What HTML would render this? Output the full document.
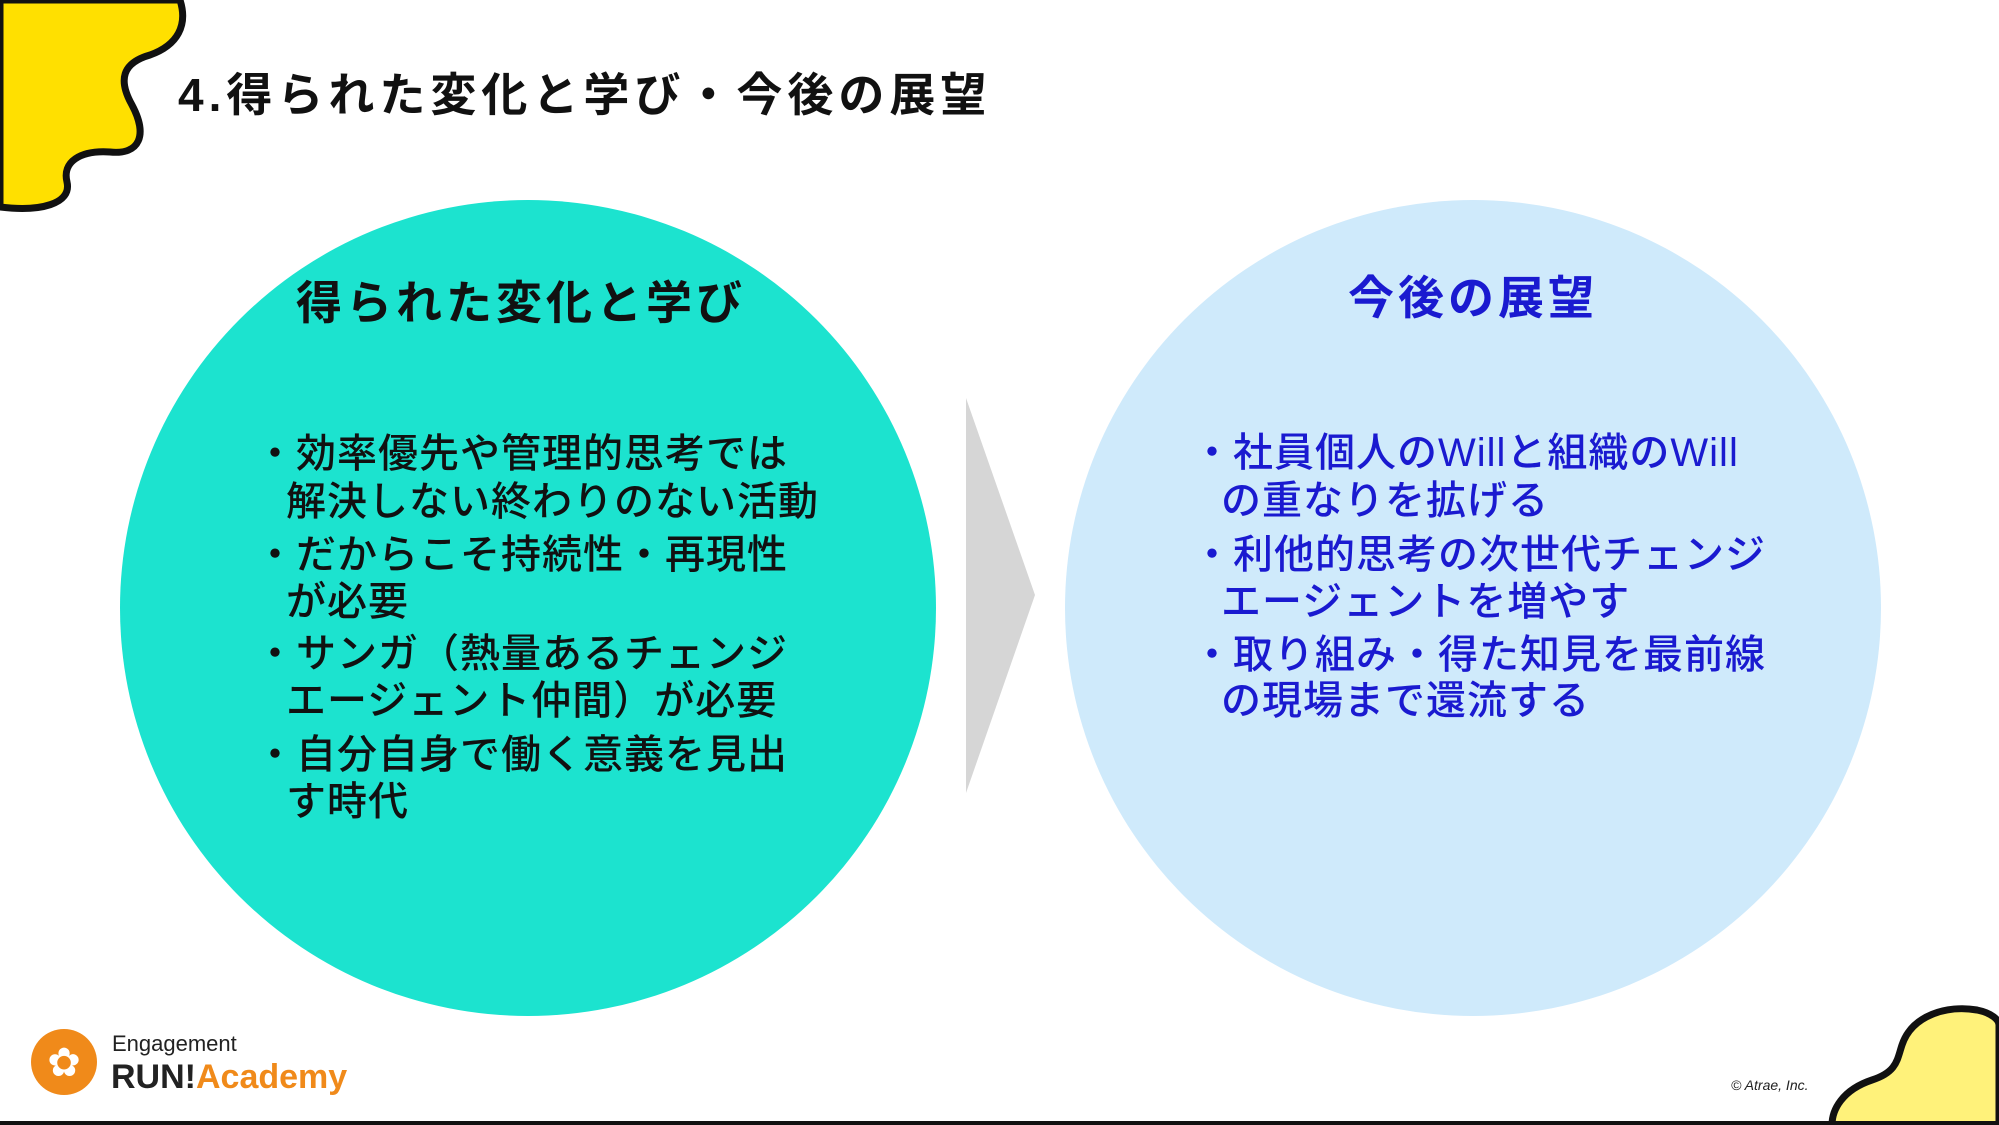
<!DOCTYPE html>
<html><head><meta charset="utf-8">
<style>
html,body{margin:0;padding:0;}
body{width:1999px;height:1125px;position:relative;overflow:hidden;background:#fff;font-family:"Liberation Sans","Noto Sans CJK JP",sans-serif;}
.a{position:absolute;white-space:nowrap;line-height:1;}
.t{font-size:40px;color:#111;font-weight:500;letter-spacing:1px;}
.b{color:#1a1ad0;}
</style></head><body>
<svg width="1999" height="1125" style="position:absolute;left:0;top:0">
  <path d="M0,0 L180,0 C188,25 178,45 150,55 C122,63 118,80 132,105 C148,135 140,155 110,152 C80,150 62,162 67,182 C72,204 40,212 0,207 Z" fill="#ffe000" stroke="#111" stroke-width="7"/>
  <path d="M1999,1125 L1832,1125 C1832,1110 1842,1090 1872,1080 C1897,1072 1897,1060 1902,1045 C1912,1015 1947,1005 1977,1010 C1992,1013 1999,1020 1999,1025 Z" fill="#fff27a" stroke="#111" stroke-width="7"/>
  <circle cx="528" cy="608" r="408" fill="#1ce3cf"/>
  <circle cx="1473" cy="608" r="408" fill="#cfeafb"/>
  <polygon points="966,398 1035,595 966,793" fill="#d6d6d6"/>
  <circle cx="64" cy="1062" r="33" fill="#f08a1a"/>
  <text x="64" y="1076" font-size="40" fill="#fff" text-anchor="middle" font-family="DejaVu Sans">✿</text>
  <rect x="0" y="1121" width="1999" height="4" fill="#111"/>
</svg>
<div class="a" style="left:178px;top:72px;font-size:46px;font-weight:bold;letter-spacing:5px;color:#111">4.得られた変化と学び・今後の展望</div>

<div class="a" style="left:296px;top:280px;font-size:46px;font-weight:bold;letter-spacing:4px;color:#111">得られた変化と学び</div>
<div class="a b" style="left:1348px;top:275px;font-size:46px;font-weight:bold;letter-spacing:4px">今後の展望</div>

<div class="a t" style="left:255px;top:434px">・効率優先や管理的思考では</div>
<div class="a t" style="left:286px;top:482px">解決しない終わりのない活動</div>
<div class="a t" style="left:255px;top:535px">・だからこそ持続性・再現性</div>
<div class="a t" style="left:286px;top:582px">が必要</div>
<div class="a t" style="left:255px;top:634px">・サンガ（熱量あるチェンジ</div>
<div class="a t" style="left:286px;top:681px">エージェント仲間）が必要</div>
<div class="a t" style="left:255px;top:735px">・自分自身で働く意義を見出</div>
<div class="a t" style="left:286px;top:782px">す時代</div>

<div class="a t b" style="left:1192px;top:433px">・社員個人のWillと組織のWill</div>
<div class="a t b" style="left:1221px;top:481px">の重なりを拡げる</div>
<div class="a t b" style="left:1192px;top:535px">・利他的思考の次世代チェンジ</div>
<div class="a t b" style="left:1221px;top:582px">エージェントを増やす</div>
<div class="a t b" style="left:1192px;top:635px">・取り組み・得た知見を最前線</div>
<div class="a t b" style="left:1221px;top:681px">の現場まで還流する</div>

<div class="a" style="left:112px;top:1033px;font-size:22px;color:#222">Engagement</div>
<div class="a" style="left:111px;top:1060px;font-size:34px;font-weight:bold;color:#222">RUN!<span style="color:#f08a1a">Academy</span></div>
<div class="a" style="left:1731px;top:1078px;font-size:14px;font-style:italic;color:#222">© Atrae, Inc.</div>
</body></html>
